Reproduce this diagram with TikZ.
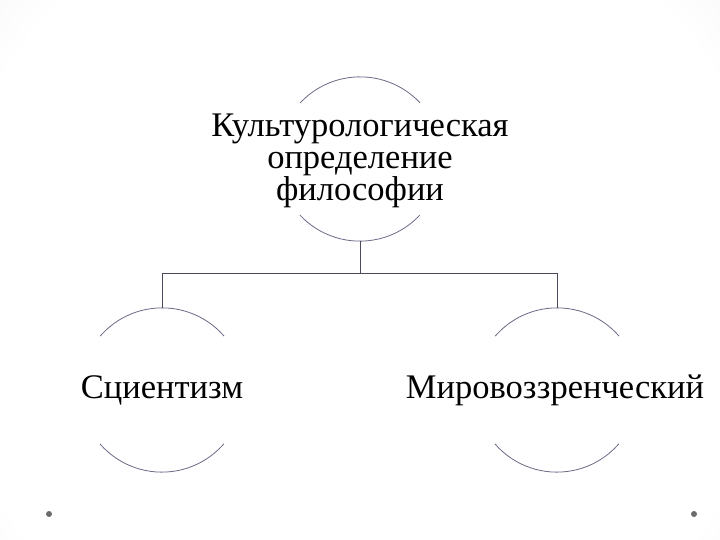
\documentclass[tikz,border=0pt]{standalone}
\usepackage{fontspec}
\setmainfont{Liberation Serif}
\definecolor{arcc}{HTML}{6A6A86}
\definecolor{linec}{HTML}{4A4A5C}
\definecolor{dotc}{HTML}{6B6B6B}
\pgfdeclareradialshading{bgshade}{\pgfpoint{0bp}{0bp}}{color(0bp)=(white); color(22bp)=(white); color(34bp)=(gray!16); color(50bp)=(gray!36)}
\tikzset{
  ring/.style={circle, draw=none, minimum size=164pt, inner sep=0pt},
  lbl/.style={align=center, inner sep=0pt, font=\fontsize{34.5}{32}\selectfont},
  arcline/.style={draw=arcc, line width=0.8pt},
  conn/.style={draw=linec, line width=0.9pt},
}
\begin{document}
\begin{tikzpicture}[x=1pt,y=1pt]
\useasboundingbox (0,0) rectangle (720,-540);
\begin{scope}
\clip (0,0) rectangle (720,-540);
\shade[shading=bgshade] (360,-290) circle (470);
\end{scope}
\node[ring] (top) at (360,-159) {};
\node[ring] (left) at (162,-390) {};
\node[ring] (right) at (557,-390) {};
\draw[arcline] (top.43) arc[start angle=43, end angle=137, radius=82];
\draw[arcline] (top.223) arc[start angle=223, end angle=317, radius=82];
\draw[arcline] (left.41) arc[start angle=41, end angle=139, radius=82];
\draw[arcline] (left.221) arc[start angle=221, end angle=319, radius=82];
\draw[arcline] (right.41) arc[start angle=41, end angle=139, radius=82];
\draw[arcline] (right.221) arc[start angle=221, end angle=319, radius=82];
\node[lbl] (toptxt) at (360,-161) {Культурологическая\\определение\\философии};
\node[lbl] (lefttxt) at (left) {Сциентизм};
\node[lbl] (righttxt) at (555,-390) {Мировоззренческий};
\coordinate (junc) at (360,-273);
\draw[conn] (top.south) -- (junc) -| (left.north);
\draw[conn] (junc) -| (right.north);
\node[circle, fill=dotc, inner sep=0pt, minimum size=6pt] (dotl) at (49,-514) {};
\node[circle, fill=dotc, inner sep=0pt, minimum size=6pt] (dotr) at (694,-514) {};
\end{tikzpicture}
\end{document}
